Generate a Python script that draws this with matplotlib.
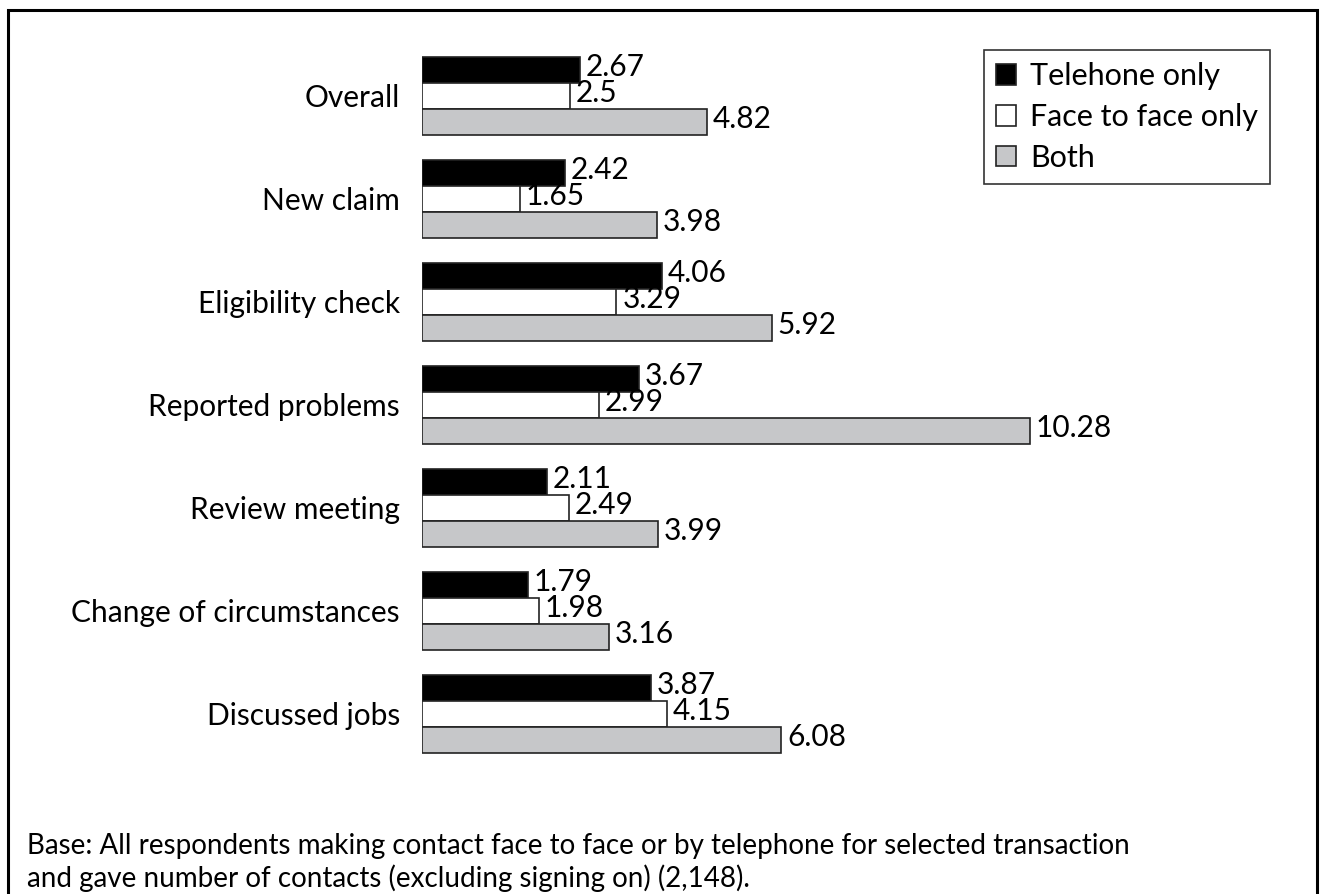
import matplotlib.pyplot as plt
import numpy as np
from matplotlib.patches import Rectangle

plt.rcParams['font.family'] = ['Lato', 'DejaVu Sans']

categories = ["Overall", "New claim", "Eligibility check", "Reported problems",
              "Review meeting", "Change of circumstances", "Discussed jobs"]
telephone = [2.67, 2.42, 4.06, 3.67, 2.11, 1.79, 3.87]
face_to_face = [2.5, 1.65, 3.29, 2.99, 2.49, 1.98, 4.15]
both = [4.82, 3.98, 5.92, 10.28, 3.99, 3.16, 6.08]
series_names = ["Telehone only", "Face to face only", "Both"]
colors = ["black", "white", "#c6c7c9"]

W, H = 1321, 894
fig = plt.figure(figsize=(W / 100, H / 100), dpi=100)

# outer frame
fig.patches.append(Rectangle((8 / W, -0.01), (1317 - 8) / W, (H - 10) / H + 0.01,
                             transform=fig.transFigure, fill=False,
                             edgecolor="black", linewidth=2.2))

# axes in pixel terms: left 422, right 1300, top 40, bottom 800
ax = fig.add_axes([422 / W, 1 - 800 / H, (1300 - 422) / W, 760 / H])
px_per_unit = 59.1
ax.set_xlim(0, (1300 - 422) / px_per_unit)
group = 103.0
top_off = 56 / group
ax.set_ylim(760 / group - top_off, -top_off)

h = 26 / group
y = np.arange(len(categories))
for k, (vals, c, name) in enumerate(zip([telephone, face_to_face, both], colors, series_names)):
    ypos = y + (k - 1) * h
    ax.barh(ypos, vals, height=h, color=c, edgecolor="#222222", linewidth=1.2, label=name)
    for yy, v in zip(ypos, vals):
        ax.text(v + 0.1, yy - 0.03, f"{v:g}", va="center", ha="left", fontsize=21.5)

ax.set_yticks(y)
ax.set_yticklabels(categories, fontsize=21.5)
ax.tick_params(axis="y", length=0, pad=16)
ax.set_xticks([])
for s in ax.spines.values():
    s.set_visible(False)

leg = ax.legend(loc="upper right", bbox_to_anchor=((1270 - 422) / 878, 1 - 10 / 760),
                fontsize=22, frameon=True, fancybox=False, edgecolor="black",
                handlelength=0.65, handleheight=0.65, handletextpad=0.45,
                borderpad=0.4, labelspacing=0.42, borderaxespad=0)
leg.get_frame().set_linewidth(1.2)

fig.text(27 / W, 1 - 846 / H,
         "Base: All respondents making contact face to face or by telephone for selected transaction",
         fontsize=20, va="center", ha="left")
fig.text(27 / W, 1 - 878 / H,
         "and gave number of contacts (excluding signing on) (2,148).",
         fontsize=20, va="center", ha="left")

fig.savefig("out.png", dpi=100)
